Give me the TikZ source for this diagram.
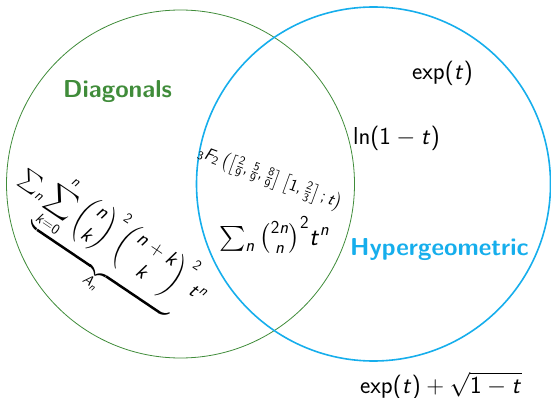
\RequirePackage{fix-cm}
\documentclass[tikz,border=0pt]{standalone}
\usepackage{amsmath}
\SetSymbolFont{operators}{normal}{OT1}{cmss}{m}{n}
\SetSymbolFont{letters}{normal}{OT1}{cmss}{m}{sl}
\mathcode`\,="602C
\definecolor{vgreen}{RGB}{64,140,58}
\definecolor{vblue}{RGB}{22,174,236}
\tikzset{
  setlab/.style={font=\fontsize{24.5}{28}\selectfont\sffamily\bfseries, inner sep=0pt},
  fml/.style={font=\fontsize{24.5}{28}\selectfont, inner sep=0pt},
  mfml/.style={font=\fontsize{26}{30}\selectfont, inner sep=0pt},
  dfml/.style={font=\fontsize{20.5}{24}\selectfont, inner sep=0pt},
  sfml/.style={font=\fontsize{17}{20}\selectfont, inner sep=0pt},
  setcirc/.style={circle, inner sep=0pt, fill=none}
}
\begin{document}
\begin{tikzpicture}[x=1pt,y=-1pt]
\useasboundingbox (0,0) rectangle (551,398);
\node[setcirc, draw=vgreen, line width=0.8pt, minimum size=348pt] (gc) at (180.5,184) {};
\node[setcirc, draw=vblue, line width=1.6pt, minimum size=354pt] (bc) at (373.5,184) {};
\node[setlab, text=vgreen, anchor=base west] (dl) at (63,98) {Diagonals};
\node[setlab, text=vblue, anchor=base west] (hl) at (350,255) {Hypergeometric};
\node[fml, anchor=base west] (e1) at (412,80) {$\exp(t)$};
\node[fml, anchor=base west] (l1) at (353,145) {$\ln(1-t)$};
\node[fml, anchor=base west] (e2) at (360,393) {$\exp(t)+\sqrt{1-t}$};
\node[mfml, anchor=base west] (m1) at (219,245) {$\sum_n\binom{2n}{n}^2t^n$};
\node[sfml, rotate=-20, anchor=base west] (f1) at (197,156) {${}_3F_2\left(\left[\frac{2}{9},\frac{5}{9},\frac{8}{9}\right]\left[1,\frac{2}{3}\right];t\right)$};
\node[dfml, rotate=-34, anchor=base west] (d1) at (19,180) {$\sum_n\underbrace{\displaystyle\sum_{k=0}^n\binom{n}{k}^2\binom{n+k}{k}^2}_{A_n}t^n$};
\end{tikzpicture}
\end{document}
